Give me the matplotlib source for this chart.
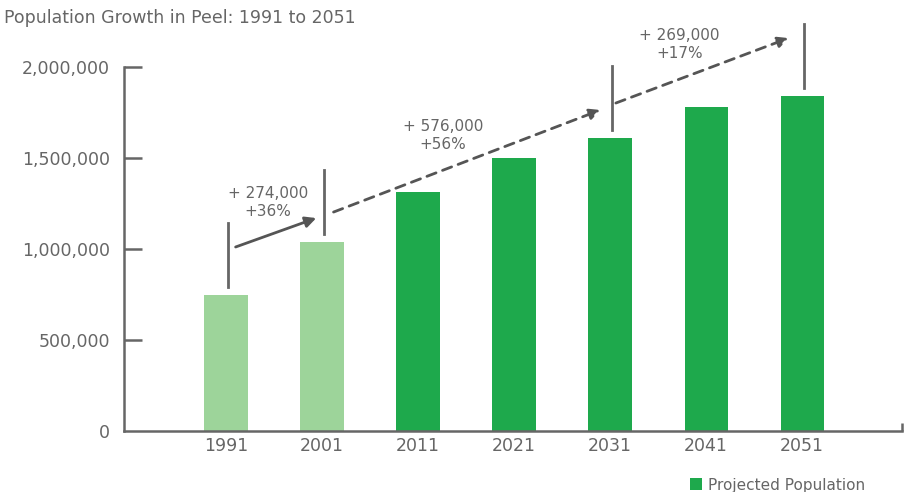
import matplotlib
matplotlib.use('Agg')
import matplotlib.pyplot as plt
from matplotlib.ticker import FuncFormatter

# data
years = ['1991', '2001', '2011', '2021', '2031', '2041', '2051']
population = [748000, 1038000, 1313000, 1500000, 1610000, 1780000, 1840000]
projected = [False, False, True, True, True, True, True]

# growth steps: (from index, to index, label)
steps = [(0, 1, '+ 274,000\n+36%'),
         (1, 4, '+ 576,000\n+56%'),
         (4, 6, '+ 269,000\n+17%')]

light = '#9dd49a'
dark = '#1ea94c'
grey = '#666666'
arrowgrey = '#555555'

plt.rcParams['font.family'] = ['DejaVu Sans']

fig = plt.figure(figsize=(9.09, 4.92), dpi=100)
ax = fig.add_axes([0.1364, 0.124, 0.8559, 0.7398])

xs = list(range(len(years)))
ax.bar([x for x, p in zip(xs, projected) if not p],
       [v for v, p in zip(population, projected) if not p],
       width=0.45, color=light)
ax.bar([x for x, p in zip(xs, projected) if p],
       [v for v, p in zip(population, projected) if p],
       width=0.45, color=dark, label='Projected Population')

ax.set_xlim(-1.0625, 7.04)
ax.set_ylim(0, 2000000)
ax.set_xticks(xs)
ax.set_xticklabels(years)
ax.set_yticks([0, 500000, 1000000, 1500000, 2000000])
ax.yaxis.set_major_formatter(FuncFormatter(lambda v, pos: format(int(v), ',')))

for s in ['top', 'right']:
    ax.spines[s].set_visible(False)
for s in ['left', 'bottom']:
    ax.spines[s].set_color(grey)
    ax.spines[s].set_linewidth(1.8)

ax.tick_params(axis='y', direction='in', length=13, width=1.8, color=grey,
               labelsize=12.5, labelcolor=grey, pad=10)
ax.tick_params(axis='x', length=0, labelsize=12.5, labelcolor=grey, pad=4)
# 0 tick has no mark, only label
ax.yaxis.get_major_ticks()[0].tick1line.set_visible(False)

# little up-tick at right end of x axis
ax.plot([1, 1], [0, 0.022], transform=ax.transAxes, color=grey, lw=1.8,
        clip_on=False, solid_capstyle='butt')

# vertical markers above bars
for i in sorted(set([a for a, b, t in steps] + [b for a, b, t in steps])):
    v = population[i]
    ax.plot([i + 0.02, i + 0.02], [v + 45000, v + 395000], color=grey,
            lw=2, clip_on=False)

# growth arrows and labels
arrow_pos = [((0.10, 1011000), (0.94, 1170000), '-'),
             ((1.12, 1203000), (3.90, 1764000), (0, (3.5, 2.5))),
             ((4.06, 1802000), (5.86, 2159000), (0, (3.5, 2.5)))]
label_pos = [(0.44, 1258000), (2.26, 1626000), (4.72, 2121000)]
for (a, b, txt), (p0, p1, ls), (lx, ly) in zip(steps, arrow_pos, label_pos):
    ax.annotate('', xy=p1, xytext=p0, annotation_clip=False,
                arrowprops=dict(arrowstyle='-|>', color=arrowgrey, lw=2,
                                ls=ls, mutation_scale=16,
                                shrinkA=0, shrinkB=0))
    ax.text(lx, ly, txt, ha='center', va='center', multialignment='center',
            fontsize=11, color=grey, linespacing=1.25, clip_on=False)

fig.text(0.004, 0.963, 'Population Growth in Peel: 1991 to 2051',
         fontsize=12.5, color=grey, va='center', ha='left')

fig.legend(loc='center left', bbox_to_anchor=(0.759, 0.014), frameon=False,
           fontsize=11, labelcolor=grey, handlelength=0.8, handleheight=0.8,
           handletextpad=0.4, borderaxespad=0, borderpad=0)

fig.savefig('out.png', dpi=100)
